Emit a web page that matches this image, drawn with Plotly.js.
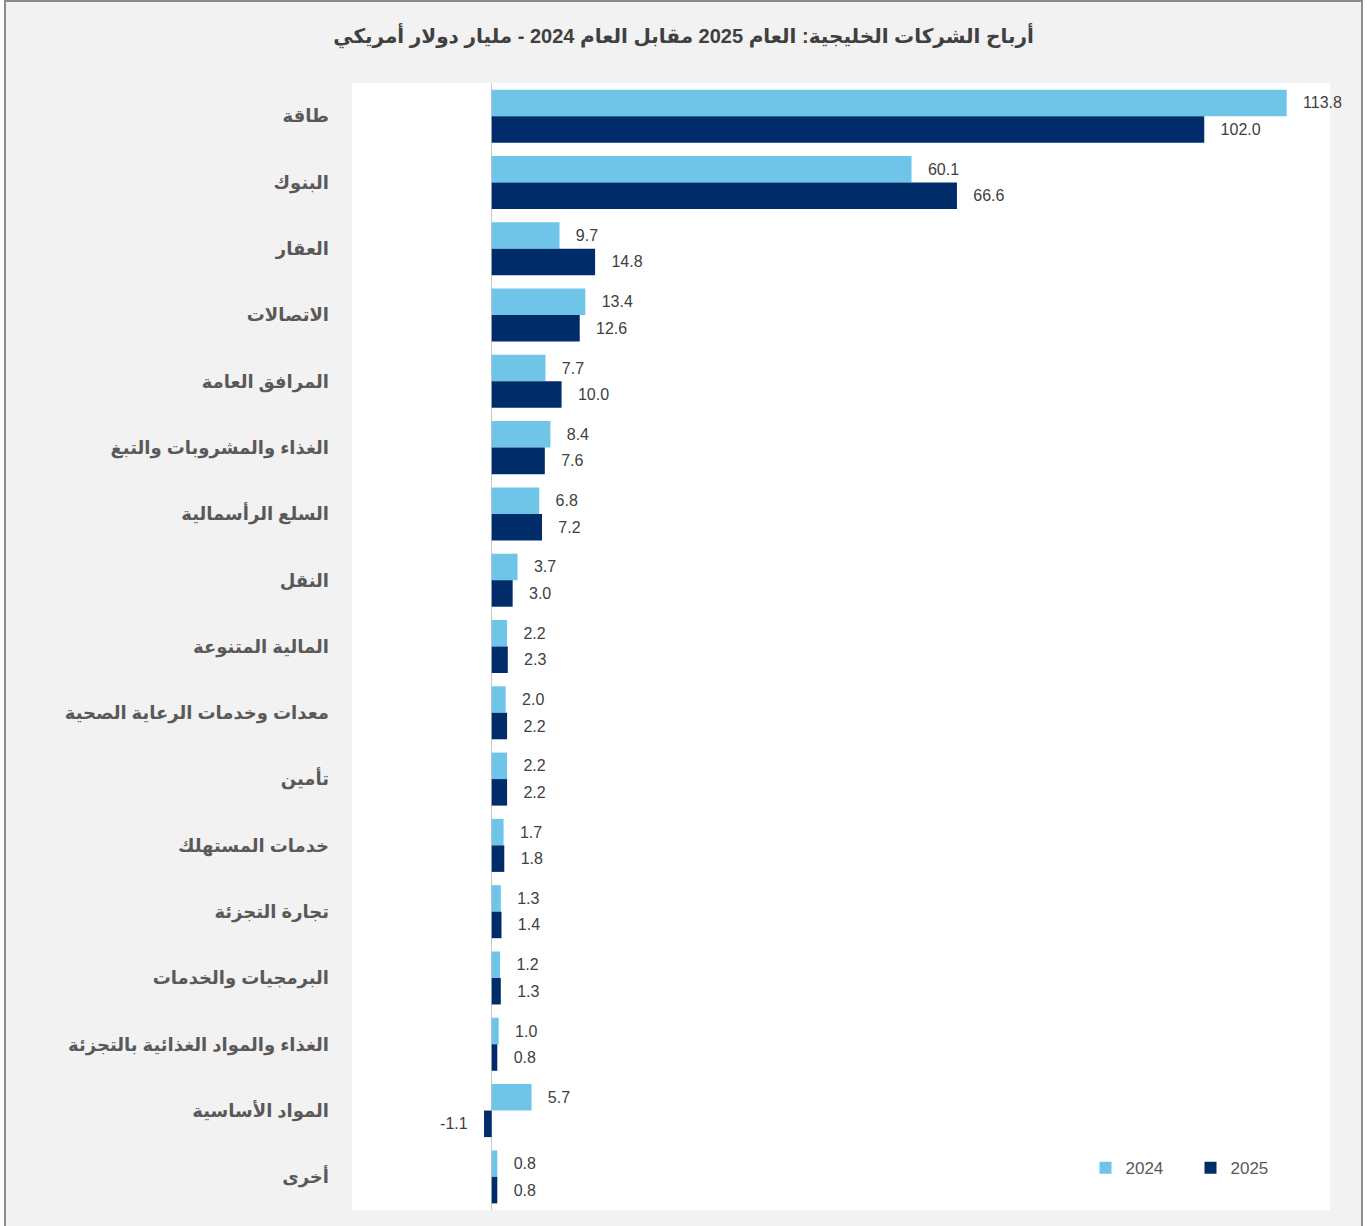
<!DOCTYPE html>
<html>
<head>
<meta charset="utf-8">
<script src="https://cdn.plot.ly/plotly-3.0.1.min.js"></script>
<style>
  html, body { margin: 0; padding: 0; background: #ffffff; }
  #frame { position: absolute; left: 4px; top: 0; width: 1359px; height: 1226px; box-sizing: border-box;
           border: 2px solid #8c8c8c; border-bottom: none; background: #f2f2f2; }
  #chart { width: 1355px; height: 1224px; }
</style>
</head>
<body>
<div id="frame"><div id="chart"></div></div>
<script>
const categories = [
  "طاقة", "البنوك", "العقار", "الاتصالات", "المرافق العامة",
  "الغذاء والمشروبات والتبغ", "السلع الرأسمالية", "النقل", "المالية المتنوعة",
  "معدات وخدمات الرعاية الصحية", "تأمين", "خدمات المستهلك", "تجارة التجزئة",
  "البرمجيات والخدمات", "الغذاء والمواد الغذائية بالتجزئة", "المواد الأساسية", "أخرى"
];
const values2024 = [113.8, 60.1, 9.7, 13.4, 7.7, 8.4, 6.8, 3.7, 2.2, 2.0, 2.2, 1.7, 1.3, 1.2, 1.0, 5.7, 0.8];
const values2025 = [102.0, 66.6, 14.8, 12.6, 10.0, 7.6, 7.2, 3.0, 2.3, 2.2, 2.2, 1.8, 1.4, 1.3, 0.8, -1.1, 0.8];
const seriesNames = ["2024", "2025"];
const colors = ["#6FC5E8", "#002D6A"];

const pad = "\u00a0\u00a0\u00a0";
const labelText = vals => vals.map(v => v < 0 ? v.toFixed(1) + pad : pad + v.toFixed(1));
const FONT = 'Arial, "Liberation Sans", "DejaVu Sans", sans-serif';

const traces = [values2024, values2025].map((vals, i) => ({
  type: "bar",
  orientation: "h",
  name: seriesNames[i],
  y: categories,
  x: vals,
  marker: { color: colors[i], line: { width: 0 } },
  text: labelText(vals),
  textposition: "outside",
  textfont: { family: FONT, size: 16, color: "#404040" },
  cliponaxis: false,
  hoverinfo: "x+name"
}));

const layout = {
  width: 1355,
  height: 1224,
  paper_bgcolor: "#f2f2f2",
  plot_bgcolor: "#ffffff",
  margin: { l: 346, r: 31, t: 81, b: 16 },
  barmode: "group",
  bargap: 0.2,
  bargroupgap: 0,
  font: { family: FONT },
  title: {
    text: "<b>أرباح الشركات الخليجية: العام 2025 مقابل العام 2024 - مليار دولار أمريكي</b>",
    font: { family: FONT, size: 20, color: "#404040" },
    x: 0.5, xanchor: "center",
    yref: "container", y: 0.972, yanchor: "middle"
  },
  xaxis: {
    range: [-20, 120],
    showticklabels: false,
    showgrid: false,
    ticks: "",
    zeroline: true,
    zerolinecolor: "#c8c8c8",
    zerolinewidth: 1.5,
    fixedrange: true
  },
  yaxis: {
    type: "category",
    autorange: "reversed",
    showgrid: false,
    ticks: "",
    ticklabelstandoff: 22,
    tickfont: { family: FONT, size: 18, color: "#595959", weight: "bold" },
    fixedrange: true
  },
  legend: {
    orientation: "h",
    x: 0.75, xanchor: "left",
    y: 0.037, yanchor: "middle",
    bgcolor: "rgba(0,0,0,0)",
    font: { family: FONT, size: 17, color: "#595959" },
    itemwidth: 30,
    entrywidth: 60,
    traceorder: "normal"
  },
  showlegend: true
};

Plotly.newPlot("chart", traces, layout, { displayModeBar: false, staticPlot: true });
</script>
</body>
</html>
